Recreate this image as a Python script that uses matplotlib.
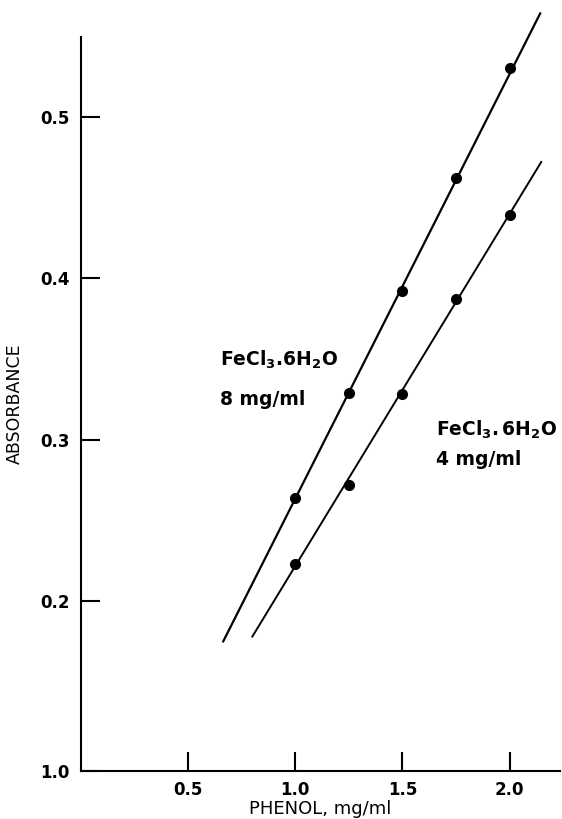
import numpy as np
import matplotlib.pyplot as plt

plt.rcParams['font.family'] = ['DejaVu Sans']
plt.rcParams['mathtext.default'] = 'regular'

# phenol concentration, mg/ml
phenol = [1.0, 1.25, 1.5, 1.75, 2.0]
# absorbance readings
abs_8 = [0.264, 0.329, 0.392, 0.462, 0.530]
abs_4 = [0.223, 0.272, 0.328, 0.387, 0.439]

# drawn calibration lines (end points)
fit8_x = [0.664, 2.143]
fit8_y = [0.175, 0.564]
fit4_x = [0.800, 2.148]
fit4_y = [0.178, 0.472]

xticks = [0.5, 1.0, 1.5, 2.0]
xticklabels = ['0.5', '1.0', '1.5', '2.0']
ybottom = 0.0947
yticks = [0.2, 0.3, 0.4, 0.5]
yticklabels = ['0.2', '0.3', '0.4', '0.5']

fig = plt.figure(figsize=(5.62, 8.19), dpi=100)
ax = fig.add_axes([0.144, 0.0586, 0.853, 0.8964])

ax.plot(fit8_x, fit8_y, color='black', lw=1.6, clip_on=False)
ax.plot(fit4_x, fit4_y, color='black', lw=1.4, clip_on=False)
ax.plot(phenol, abs_8, 'o', color='black', ms=7)
ax.plot(phenol, abs_4, 'o', color='black', ms=7)

ax.set_xlim(0, 2.237)
ax.set_ylim(ybottom, 0.5495)

for s in ['top', 'right']:
    ax.spines[s].set_visible(False)
for s in ['left', 'bottom']:
    ax.spines[s].set_linewidth(1.5)

ax.set_xticks(xticks)
ax.set_xticklabels(xticklabels, fontsize=12, fontweight='bold')
ax.set_yticks([ybottom] + yticks)
ax.set_yticklabels(['1.0'] + yticklabels, fontsize=12, fontweight='bold')
ax.tick_params(axis='both', direction='in', length=14, width=1.5)
ax.tick_params(axis='x', pad=7)
ax.tick_params(axis='y', pad=8)

ax.set_xlabel('PHENOL, mg/ml', fontsize=13, labelpad=1)
ax.set_ylabel('ABSORBANCE', fontsize=12.5, labelpad=12)

ax.text(0.65, 0.3458, r'FeCl$_3$.6H$_2$O', fontsize=13.5, fontweight='bold')
ax.text(0.65, 0.3217, '8 mg/ml', fontsize=13.5, fontweight='bold')
ax.text(1.655, 0.3025, r'FeCl$_3$.$\,$6H$_2$O', fontsize=13.5, fontweight='bold')
ax.text(1.655, 0.2845, '4 mg/ml', fontsize=13.5, fontweight='bold')

fig.savefig('out.png', dpi=100)
